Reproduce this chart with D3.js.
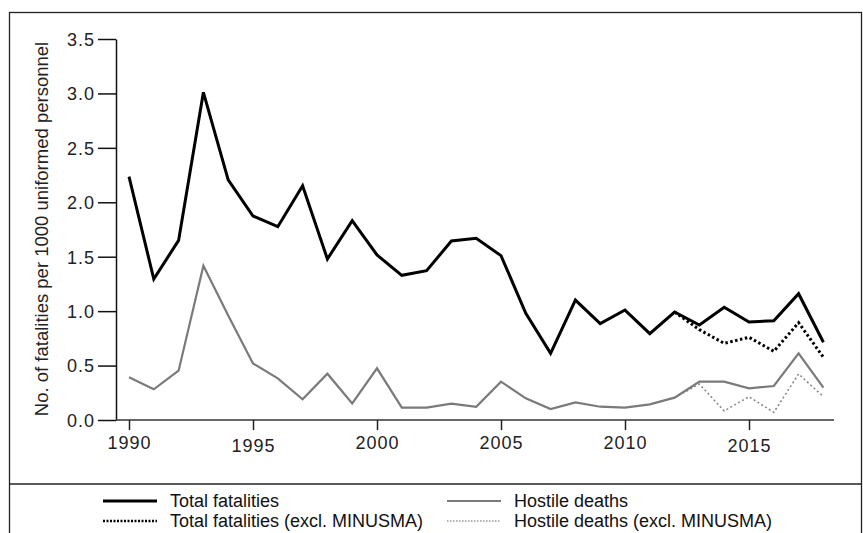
<!DOCTYPE html>
<html>
<head>
<meta charset="utf-8">
<script src="https://cdn.jsdelivr.net/npm/d3@7/dist/d3.min.js"></script>
<style>
  html, body { margin: 0; padding: 0; background: #fff; }
  svg { display: block; font-family: "Liberation Sans", Arial, sans-serif; }
</style>
</head>
<body>
<svg id="chart" width="863" height="533"></svg>
<script>
const years = d3.range(1990, 2019);
const totalFatalities = [2.235, 1.295, 1.65, 3.01, 2.205, 1.874, 1.776, 2.152, 1.479, 1.831,
  1.516, 1.329, 1.372, 1.644, 1.669, 1.51, 0.98, 0.613, 1.102, 0.885,
  1.01, 0.793, 0.992, 0.873, 1.035, 0.90, 0.912, 1.16, 0.714];
const hostileDeaths = [0.392, 0.282, 0.453, 1.418, 0.96, 0.52, 0.383, 0.19, 0.425, 0.153,
  0.475, 0.113, 0.113, 0.15, 0.122, 0.352, 0.199, 0.101, 0.162, 0.122,
  0.113, 0.144, 0.205, 0.352, 0.352, 0.291, 0.312, 0.613, 0.297];
const exclYears = [2012, 2013, 2014, 2015, 2016, 2017, 2018];
const totalExclMinusma = [0.992, 0.83, 0.704, 0.76, 0.631, 0.894, 0.576];
const hostileExclMinusma = [0.205, 0.33, 0.083, 0.214, 0.07, 0.423, 0.214];
const yTicks = [0, 0.5, 1, 1.5, 2, 2.5, 3, 3.5];
const xTicks = [1990, 1995, 2000, 2005, 2010, 2015];
const yLabel = "No. of fatalities per 1000 uniformed personnel";
const legendItems = [
  "Total fatalities", "Total fatalities (excl. MINUSMA)",
  "Hostile deaths", "Hostile deaths (excl. MINUSMA)"
];

const svg = d3.select("#chart");
const x = d3.scaleLinear().domain([1990, 2018]).range([129, 823.4]);
const y = d3.scaleLinear().domain([0, 3.5]).range([420, 39]);

// frame
svg.append("rect").attr("x", 9.5).attr("y", 12.5).attr("width", 852).attr("height", 540)
  .attr("fill", "none").attr("stroke", "#222").attr("stroke-width", 1.3);
svg.append("line").attr("x1", 9.5).attr("x2", 861.5).attr("y1", 484).attr("y2", 484)
  .attr("stroke", "#222").attr("stroke-width", 1.3);

// y axis
const yAxis = svg.append("g").attr("transform", "translate(116,0)")
  .call(d3.axisLeft(y).tickValues(yTicks).tickSize(18).tickSizeOuter(0).tickPadding(3)
    .tickFormat(d3.format(".1f")));
yAxis.select(".domain").attr("stroke", "#111").attr("stroke-width", 1.5);
yAxis.selectAll(".tick line").attr("stroke", "#111").attr("stroke-width", 1.5);
yAxis.selectAll(".tick text").attr("font-size", 18).attr("fill", "#222")
  .attr("font-family", "'Liberation Sans', Arial, sans-serif")
  .attr("letter-spacing", "1px").attr("dy", "0.35em");

// x axis
svg.append("line").attr("x1", 116).attr("x2", 834).attr("y1", 420).attr("y2", 420)
  .attr("stroke", "#333").attr("stroke-width", 1.5);
const xAxis = svg.append("g").attr("transform", "translate(0,420)")
  .call(d3.axisBottom(x).tickValues(xTicks).tickSize(10).tickSizeOuter(0).tickFormat(d3.format("d")));
xAxis.select(".domain").remove();
xAxis.selectAll(".tick line").attr("stroke", "#222").attr("stroke-width", 1.5);
const lowered = new Set([1995, 2015]);
xAxis.selectAll(".tick text").attr("font-size", 18).attr("fill", "#222")
  .attr("font-family", "'Liberation Sans', Arial, sans-serif")
  .attr("letter-spacing", "1px")
  .attr("y", d => lowered.has(d) ? 32 : 29).attr("dy", 0);

// y label
svg.append("text").attr("transform", "translate(48,229) rotate(-90)")
  .attr("text-anchor", "middle").attr("font-size", 18.5).attr("fill", "#222").text(yLabel);

// lines
const line = d3.line().x(d => x(d[0])).y(d => y(d[1]));
const series = [
  { data: d3.zip(exclYears, hostileExclMinusma), stroke: "#8a8a8a", w: 1.6, dash: "2,2.5" },
  { data: d3.zip(years, hostileDeaths), stroke: "#7a7a7a", w: 2.2, dash: null },
  { data: d3.zip(exclYears, totalExclMinusma), stroke: "#000", w: 3, dash: "2.5,2.5" },
  { data: d3.zip(years, totalFatalities), stroke: "#000", w: 3, dash: null }
];
series.forEach(s => {
  svg.append("path").datum(s.data).attr("d", line).attr("fill", "none")
    .attr("stroke", s.stroke).attr("stroke-width", s.w)
    .attr("stroke-dasharray", s.dash).attr("stroke-linejoin", "miter");
});

// legend
const leg = [
  { label: legendItems[0], x: 103, y: 501, stroke: "#000", w: 3, dash: null },
  { label: legendItems[1], x: 103, y: 521, stroke: "#000", w: 2.5, dash: "2,1.5" },
  { label: legendItems[2], x: 447, y: 501, stroke: "#7a7a7a", w: 2.2, dash: null },
  { label: legendItems[3], x: 447, y: 521, stroke: "#999", w: 1.5, dash: "1.5,1.5" }
];
leg.forEach(l => {
  svg.append("line").attr("x1", l.x).attr("x2", l.x + 54).attr("y1", l.y).attr("y2", l.y)
    .attr("stroke", l.stroke).attr("stroke-width", l.w).attr("stroke-dasharray", l.dash);
  svg.append("text").attr("x", l.x + 67).attr("y", l.y + 6).attr("font-size", 18)
    .attr("fill", "#111").text(l.label);
});
</script>
</body>
</html>
